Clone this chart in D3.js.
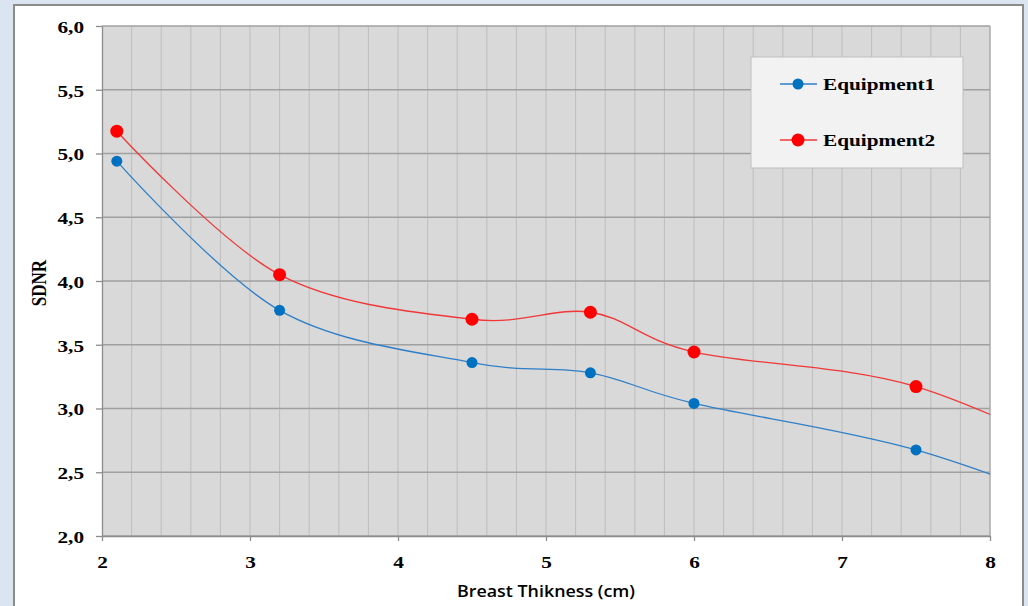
<!DOCTYPE html>
<html>
<head>
<meta charset="utf-8">
<script src="https://cdn.jsdelivr.net/npm/d3@7"></script>
<style>
  html, body { margin: 0; padding: 0; background: #dbe5f1; }
  svg { display: block; }
</style>
</head>
<body>
<svg id="chart" width="1028" height="606"></svg>
<script>
// ---- data ----
const thickness = [2.1, 3.2, 4.5, 5.3, 6.0, 7.5, 9.0];
const equipment1 = [4.94, 3.77, 3.36, 3.28, 3.04, 2.675, 2.05];
const equipment2 = [5.175, 4.05, 3.70, 3.755, 3.443, 3.172, 2.41];
const seriesNames = ["Equipment1", "Equipment2"];
const xTicks = [2, 3, 4, 5, 6, 7, 8];
const yTicks = [2.0, 2.5, 3.0, 3.5, 4.0, 4.5, 5.0, 5.5, 6.0];
const xLabel = "Breast Thikness (cm)";
const yLabel = "SDNR";

const SX = 1.25; // horizontal stretch of the reference text
const FS = 17;
const svg = d3.select("#chart");
const m = { left: 102, right: 990, top: 26, bottom: 536 };

const x = d3.scaleLinear().domain([2, 8]).range([m.left, m.right]);
const y = d3.scaleLinear().domain([2, 6]).range([m.bottom, m.top]);

// outer chart frame
svg.append("rect").attr("x", 14).attr("y", 5).attr("width", 1009).attr("height", 640)
  .attr("fill", "#ffffff").attr("stroke", "#8c8c8c").attr("stroke-width", 2);

// plot background
svg.append("rect").attr("x", m.left).attr("y", m.top)
  .attr("width", m.right - m.left).attr("height", m.bottom - m.top)
  .attr("fill", "#d9d9d9");

// minor vertical grid
const minor = d3.range(2.2, 8.0001, 0.2);
svg.append("g").selectAll("line").data(minor).join("line")
  .attr("x1", d => x(d)).attr("x2", d => x(d))
  .attr("y1", m.top).attr("y2", m.bottom)
  .attr("stroke", "#bdbdbd").attr("stroke-width", 1);

// horizontal major grid
svg.append("g").selectAll("line").data(yTicks).join("line")
  .attr("x1", m.left).attr("x2", m.right)
  .attr("y1", d => y(d)).attr("y2", d => y(d))
  .attr("stroke", "#a0a0a0").attr("stroke-width", 1.3);

// right border
svg.append("line").attr("x1", m.right).attr("x2", m.right).attr("y1", m.top).attr("y2", m.bottom)
  .attr("stroke", "#a0a0a0").attr("stroke-width", 1);

const locale = d3.formatLocale({ decimal: ",", thousands: ".", grouping: [3], currency: ["", ""] });
const fmt = locale.format(".1f");

// axes
const yAxis = svg.append("g").attr("transform", `translate(${m.left},0)`)
  .call(d3.axisLeft(y).tickValues(yTicks).tickFormat(fmt).tickSize(6).tickSizeOuter(0));
const xAxis = svg.append("g").attr("transform", `translate(0,${m.bottom})`)
  .call(d3.axisBottom(x).tickValues(xTicks).tickFormat(d3.format("d")).tickSize(5).tickSizeOuter(0));

[yAxis, xAxis].forEach(g => {
  g.select(".domain").attr("stroke", "#8c8c8c").attr("stroke-width", 1.3);
  g.selectAll(".tick line").attr("stroke", "#8c8c8c").attr("stroke-width", 1.3);
  g.selectAll(".tick text")
    .attr("font-family", "'Liberation Serif', 'Times New Roman', serif")
    .attr("font-weight", "bold").attr("font-size", FS).attr("fill", "#000");
});
yAxis.selectAll(".tick text").attr("x", -18 / SX).attr("dy", "0.38em")
  .attr("transform", `scale(${SX},1)`);
xAxis.selectAll(".tick text").attr("y", 19.5).attr("transform", `scale(${SX},1)`);

// axis titles
svg.append("text").attr("transform", `translate(${(457 + 635) / 2},597)`)
  .attr("text-anchor", "middle")
  .attr("font-family", "'Open Sans', 'Liberation Sans', sans-serif")
  .attr("font-weight", 600).attr("font-size", 16).attr("fill", "#000")
  .attr("textLength", 178).attr("lengthAdjust", "spacingAndGlyphs")
  .text(xLabel);

svg.append("text").attr("transform", `translate(46,283) rotate(-90) scale(1,${SX})`)
  .attr("text-anchor", "middle")
  .attr("font-family", "'Liberation Serif', 'Times New Roman', serif")
  .attr("font-weight", "bold").attr("font-size", FS).attr("fill", "#000")
  .text(yLabel);

// clip
svg.append("clipPath").attr("id", "plotclip").append("rect")
  .attr("x", m.left).attr("y", m.top).attr("width", m.right - m.left).attr("height", m.bottom - m.top);

const series = [
  { name: seriesNames[0], values: equipment1, line: "#2f7fc8", marker: "#0070c0", r: 5.5 },
  { name: seriesNames[1], values: equipment2, line: "#f03838", marker: "#ff0000", r: 6.5 }
];

const lineGen = d3.line().x(d => x(d[0])).y(d => y(d[1])).curve(d3.curveCardinal.tension(0));

const plot = svg.append("g").attr("clip-path", "url(#plotclip)");
series.forEach(s => {
  const pts = thickness.map((t, i) => [t, s.values[i]]);
  plot.append("path").attr("d", lineGen(pts)).attr("fill", "none")
    .attr("stroke", s.line).attr("stroke-width", 1.3);
});
series.forEach(s => {
  const pts = thickness.map((t, i) => [t, s.values[i]]).filter(p => p[0] <= 8);
  plot.append("g").selectAll("circle").data(pts).join("circle")
    .attr("cx", d => x(d[0])).attr("cy", d => y(d[1])).attr("r", s.r)
    .attr("fill", s.marker);
});

// legend
const lg = svg.append("g");
lg.append("rect").attr("x", 751).attr("y", 57).attr("width", 212).attr("height", 111)
  .attr("fill", "#f2f2f2").attr("stroke", "#c0c0c0").attr("stroke-width", 1);
series.forEach((s, i) => {
  const cy = 84 + i * 56;
  lg.append("line").attr("x1", 780).attr("x2", 817).attr("y1", cy).attr("y2", cy)
    .attr("stroke", s.line).attr("stroke-width", 1.3);
  lg.append("circle").attr("cx", 798).attr("cy", cy).attr("r", s.r).attr("fill", s.marker);
  lg.append("text").attr("transform", `translate(823,${cy + 6}) scale(${SX},1)`)
    .attr("font-family", "'Liberation Serif', 'Times New Roman', serif")
    .attr("font-weight", "bold").attr("font-size", FS).attr("fill", "#000")
    .text(s.name);
});
</script>
</body>
</html>
